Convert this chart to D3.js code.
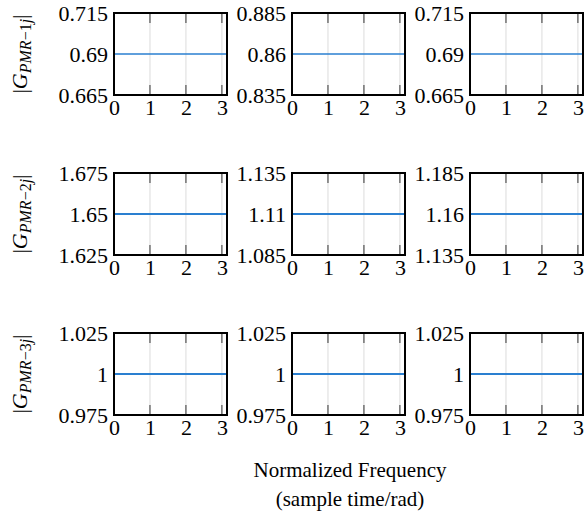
<!DOCTYPE html>
<html><head><meta charset="utf-8">
<script src="https://cdn.jsdelivr.net/npm/d3@7"></script>
<style>
body{margin:0;background:#fff;}
svg{display:block;}
</style></head>
<body><svg id="c" width="587" height="521"></svg>
<script>
// ---- data ----
const freqPoints = [0, 3.1416];
const xTicks = [0, 1, 2, 3];
const rowLabels = ["1j", "2j", "3j"];
const gains = [
  [0.69, 0.86, 0.69],
  [1.65, 1.11, 1.16],
  [1.00, 1.00, 1.00]
];
const yLow = [
  [0.665, 0.835, 0.665],
  [1.625, 1.085, 1.135],
  [0.975, 0.975, 0.975]
];
const yHigh = [
  [0.715, 0.885, 0.715],
  [1.675, 1.135, 1.185],
  [1.025, 1.025, 1.025]
];
const yTickLabels = [
  [["0.665","0.69","0.715"], ["0.835","0.86","0.885"], ["0.665","0.69","0.715"]],
  [["1.625","1.65","1.675"], ["1.085","1.11","1.135"], ["1.135","1.16","1.185"]],
  [["0.975","1","1.025"], ["0.975","1","1.025"], ["0.975","1","1.025"]]
];
const xTitle = ["Normalized Frequency", "(sample time/rad)"];

// ---- layout ----
const colLeft = [114, 292, 470];
const rowTop = [13, 173, 333];
const pw = 113, ph = 82;
const svg = d3.select("#c");
const fs = 22;
const serif = "'Liberation Serif', 'Times New Roman', Times, serif";

for (let r = 0; r < 3; r++) {
  const lab = svg.append("text")
    .attr("transform", `translate(27,${rowTop[r] + ph/2}) rotate(-90)`)
    .attr("text-anchor", "middle")
    .style("font-family", serif)
    .style("font-size", "22px");
  lab.append("tspan").text("|");
  lab.append("tspan").style("font-style", "italic").text("G");
  lab.append("tspan").style("font-style", "italic").style("font-size", "16px")
    .attr("dy", 4).text("PMR");
  lab.append("tspan").style("font-size", "16px").text("\u2212");
  lab.append("tspan").style("font-size", "16px").text(rowLabels[r][0]);
  lab.append("tspan").style("font-style", "italic").style("font-size", "16px").text(rowLabels[r][1]);
  lab.append("tspan").attr("dy", -4).text("|");

  for (let c = 0; c < 3; c++) {
    const g = svg.append("g").attr("transform", `translate(${colLeft[c]},${rowTop[r]})`);
    const x = d3.scaleLinear().domain([0, Math.PI]).range([0, pw]);
    const y = d3.scaleLinear().domain([yLow[r][c], yHigh[r][c]]).range([ph, 0]);

    g.selectAll(".grid").data(xTicks.filter(t => t > 0)).enter().append("line")
      .attr("x1", d => x(d)).attr("x2", d => x(d))
      .attr("y1", 0).attr("y2", ph)
      .attr("stroke", "#dcdcdc").attr("stroke-width", 1);
    g.selectAll(".tt").data(xTicks.filter(t => t > 0)).enter().append("line")
      .attr("x1", d => x(d)).attr("x2", d => x(d))
      .attr("y1", 0).attr("y2", 10)
      .attr("stroke", "#333").attr("stroke-width", 1);
    g.selectAll(".tb").data(xTicks.filter(t => t > 0)).enter().append("line")
      .attr("x1", d => x(d)).attr("x2", d => x(d))
      .attr("y1", ph - 10).attr("y2", ph)
      .attr("stroke", "#333").attr("stroke-width", 1);

    const line = d3.line().x(d => x(d)).y(() => y(gains[r][c]));
    g.append("path").datum(freqPoints).attr("d", line)
      .attr("fill", "none").attr("stroke", "#2a7fd0")
      .attr("stroke-width", r === 0 ? 1.5 : 2);

    g.append("rect").attr("x", 0).attr("y", 0).attr("width", pw).attr("height", ph)
      .attr("fill", "none").attr("stroke", "#000").attr("stroke-width", 2);

    const vals = [yLow[r][c], gains[r][c], yHigh[r][c]];
    const ya = d3.axisLeft(y).tickValues(vals).tickSize(0).tickPadding(6)
      .tickFormat((d, i) => yTickLabels[r][c][i]);
    const yg = g.append("g").call(ya);
    yg.select(".domain").remove();
    yg.selectAll("text").style("font-family", serif).style("font-size", fs + "px").style("fill", "#000");

    const xa = d3.axisBottom(x).tickValues(xTicks).tickSize(0).tickPadding(4)
      .tickFormat(d3.format("d"));
    const xg = g.append("g").attr("transform", `translate(0,${ph})`).call(xa);
    xg.select(".domain").remove();
    xg.selectAll("text").style("font-family", serif).style("font-size", fs + "px").style("fill", "#000");
  }
}

svg.append("text").attr("x", 350).attr("y", 477).attr("text-anchor", "middle")
  .style("font-family", serif).style("font-size", "21px").text(xTitle[0]);
svg.append("text").attr("x", 350).attr("y", 506).attr("text-anchor", "middle")
  .style("font-family", serif).style("font-size", "21px").text(xTitle[1]);
</script></body></html>
